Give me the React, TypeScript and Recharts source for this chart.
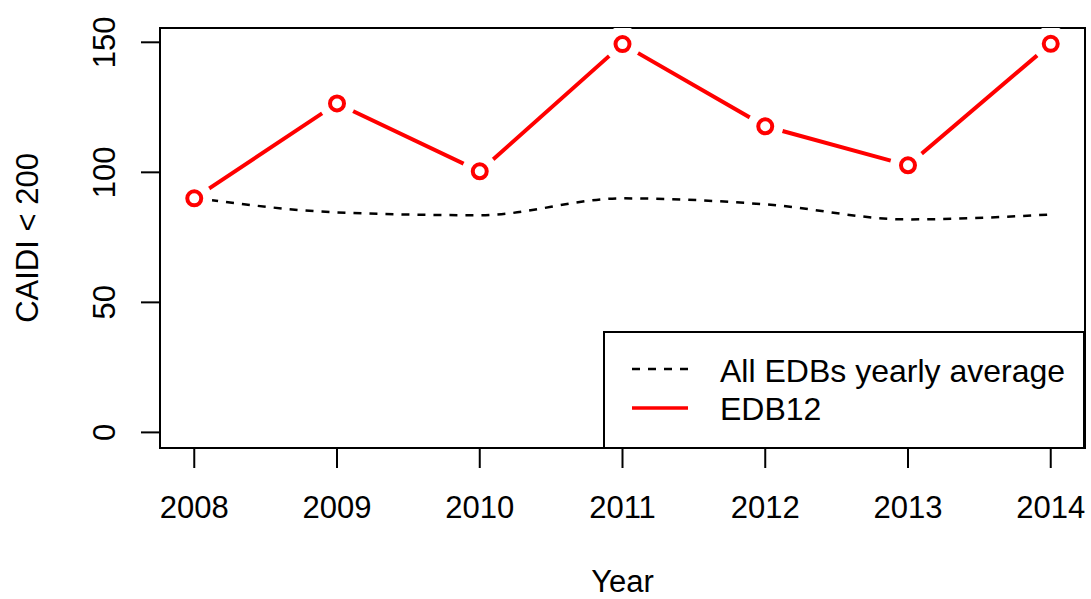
import React from "react";
import {
  LineChart,
  Line,
  XAxis,
  YAxis,
  Legend,
  Label,
  ReferenceArea,
} from "recharts";

const years = [2008, 2009, 2010, 2011, 2012, 2013, 2014];
const edb12 = [90, 126.5, 100.4, 149.3, 117.7, 102.7, 149.4];
const allAverage = [90.2, 84.6, 83.5, 90.0, 87.7, 81.9, 83.8];
const yTicks = [0, 50, 100, 150];

const X_DOMAIN: [number, number] = [2007.76, 2014.24];
const Y_DOMAIN: [number, number] = [-6, 155.5];

const W = 1091;
const H = 599;
const FONT = "'Liberation Sans', Arial, Helvetica, sans-serif";
const FS = 31;
const LEGEND_FS = 32;

const chartData = years.map((year, i) => ({
  year,
  edb12: edb12[i],
  avg: allAverage[i],
}));

// R style type="b" point: white halo cuts the line near the point, then an open ring
const RingDot = (props: any) => {
  const { cx, cy, index } = props;
  if (cx == null || cy == null) return <g key={`dot-${index}`} />;
  return (
    <g key={`dot-${index}`}>
      <circle cx={cx} cy={cy} r={18} style={{ fill: "#ffffff" }} />
      <circle cx={cx} cy={cy} r={7} style={{ fill: "none", stroke: "#FF0000", strokeWidth: 4 }} />
    </g>
  );
};

const XTick = (props: any) => {
  const { x, y, payload } = props;
  return (
    <text x={x} y={y + 48} textAnchor="middle" fontSize={FS} fontFamily={FONT} fill="#000">
      {payload.value}
    </text>
  );
};

const YTick = (props: any) => {
  const { x, y, payload } = props;
  const tx = x - 24;
  return (
    <text
      x={tx}
      y={y}
      transform={`rotate(-90 ${tx} ${y})`}
      textAnchor="middle"
      fontSize={FS}
      fontFamily={FONT}
      fill="#000"
    >
      {payload.value}
    </text>
  );
};

const LegendBox = () => (
  <svg width={482} height={117} style={{ display: "block" }}>
    <rect x={1} y={1} width={480} height={116} fill="#fff" stroke="#000" strokeWidth={2} />
    <line x1={29} x2={85} y1={38} y2={38} stroke="#000" strokeWidth={2.5} strokeDasharray="8 8" />
    <line x1={29} x2={85} y1={77} y2={77} stroke="#FF0000" strokeWidth={3.5} />
    <text x={117} y={51} fontSize={LEGEND_FS} fontFamily={FONT} fill="#000">
      All EDBs yearly average
    </text>
    <text x={117} y={89} fontSize={LEGEND_FS} fontFamily={FONT} fill="#000">
      EDB12
    </text>
  </svg>
);

export default function App() {
  return (
    <div style={{ position: "absolute", left: 0, top: 0, width: W, height: H, background: "#fff" }}>
      {/* base layer: axes, labels, red line, legend */}
      <div style={{ position: "absolute", left: 0, top: 0 }}>
        <LineChart
          width={W}
          height={H}
          data={chartData}
          margin={{ top: 28, right: 6, bottom: 0, left: 0 }}
        >
          <Line
            type="linear"
            dataKey="edb12"
            stroke="#FF0000"
            strokeWidth={4}
            dot={false}
            activeDot={false}
            isAnimationActive={false}
          />
          <XAxis
            dataKey="year"
            type="number"
            domain={X_DOMAIN}
            ticks={years}
            allowDataOverflow
            height={151}
            tickSize={20}
            tick={XTick}
            axisLine={{ stroke: "#000", strokeWidth: 2 }}
            tickLine={{ stroke: "#000", strokeWidth: 2 }}
          >
            <Label
              content={(p: any) => {
                const vb = p.viewBox || { x: 160, y: 448, width: 925, height: 151 };
                return (
                  <text
                    x={vb.x + vb.width / 2}
                    y={vb.y + vb.height - 7}
                    textAnchor="middle"
                    fontSize={FS}
                    fontFamily={FONT}
                    fill="#000"
                  >
                    Year
                  </text>
                );
              }}
            />
          </XAxis>
          <YAxis
            type="number"
            domain={Y_DOMAIN}
            ticks={yTicks}
            allowDataOverflow
            width={160}
            tickSize={19}
            tick={YTick}
            axisLine={{ stroke: "#000", strokeWidth: 2 }}
            tickLine={{ stroke: "#000", strokeWidth: 2 }}
          >
            <Label
              content={(p: any) => {
                const vb = p.viewBox || { x: 0, y: 28, width: 160, height: 420 };
                const cx = vb.x + 27;
                const cy = vb.y + vb.height / 2;
                return (
                  <text
                    x={cx}
                    y={cy}
                    transform={`rotate(-90 ${cx} ${cy})`}
                    textAnchor="middle"
                    dominantBaseline="central"
                    fontSize={FS}
                    fontFamily={FONT}
                    fill="#000"
                  >
                    {"CAIDI < 200"}
                  </text>
                );
              }}
            />
          </YAxis>
          <Legend
            layout="horizontal"
            verticalAlign="middle"
            align="center"
            content={LegendBox}
            wrapperStyle={{ left: 603, top: 331, width: 482, height: 117 }}
          />
        </LineChart>
      </div>
      {/* overlay with the same scales: points over the red line, dashed average, plot box */}
      <div style={{ position: "absolute", left: 0, top: 0, pointerEvents: "none" }}>
        <LineChart
          width={W}
          height={H}
          data={chartData}
          margin={{ top: 28, right: 6, bottom: 151, left: 160 }}
        >
          <XAxis dataKey="year" type="number" domain={X_DOMAIN} allowDataOverflow hide />
          <YAxis type="number" domain={Y_DOMAIN} allowDataOverflow hide />
          <Line
            type="linear"
            dataKey="edb12"
            stroke="transparent"
            strokeWidth={0}
            dot={RingDot}
            activeDot={false}
            isAnimationActive={false}
          />
          <Line
            type="monotone"
            dataKey="avg"
            stroke="#000"
            strokeWidth={2.5}
            strokeDasharray="8 8"
            dot={false}
            activeDot={false}
            isAnimationActive={false}
          />
          <ReferenceArea
            x1={X_DOMAIN[0]}
            x2={X_DOMAIN[1]}
            y1={Y_DOMAIN[0]}
            y2={Y_DOMAIN[1]}
            fill="none"
            fillOpacity={0}
            stroke="#000"
            strokeWidth={2}
            ifOverflow="visible"
          />
        </LineChart>
      </div>
    </div>
  );
}
